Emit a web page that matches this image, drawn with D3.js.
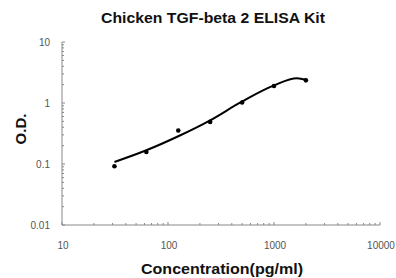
<!DOCTYPE html>
<html>
<head>
<meta charset="utf-8">
<script src="https://cdn.jsdelivr.net/npm/d3@7"></script>
<style>
body { margin: 0; background: #fff; }
text { font-family: Arial, "Liberation Sans", sans-serif; }
</style>
</head>
<body>
<svg width="396" height="278"></svg>
<script>
// standard points
const conc = [31.25, 62.5, 125, 250, 500, 1000, 2000];
const od = [0.092, 0.157, 0.355, 0.49, 1.02, 1.9, 2.35];

// fitted curve
const curveConc = [31.25, 62.5, 125, 250, 500, 1000, 1650, 2000];
const curveOd = [0.108, 0.168, 0.285, 0.52, 1.06, 1.95, 2.55, 2.4];

const xTicks = [10, 100, 1000, 10000];
const yTicks = [0.01, 0.1, 1, 10];

var svg = d3.select("svg");

var x = d3.scaleLog().domain([10, 10000]).range([62, 380]);
var y = d3.scaleLog().domain([0.01, 10]).range([225, 42]);

// minor ticks
var xMinor = [], yMinor = [];
for (let d = 10; d < 10000; d *= 10)
    for (let k = 2; k <= 9; k++) xMinor.push(d * k);
for (let d = 0.01; d < 9; d *= 10)
    for (let k = 2; k <= 9; k++) yMinor.push(d * k);

var axisColor = "#888";

var xAxis = svg.append("g").attr("transform", "translate(0,225)");
xAxis.append("line").attr("x1", 62).attr("x2", 380).attr("stroke", axisColor);
xAxis.selectAll(".mn").data(xMinor).enter().append("line")
    .attr("x1", d => x(d)).attr("x2", d => x(d))
    .attr("y1", 0).attr("y2", -2)
    .attr("stroke", axisColor);
xAxis.selectAll(".mj").data(xTicks).enter().append("line")
    .attr("x1", d => x(d)).attr("x2", d => x(d)).attr("y1", 0).attr("y2", -3)
    .attr("stroke", axisColor);
xAxis.selectAll("text").data(xTicks).enter().append("text")
    .attr("x", d => x(d) + 1).attr("y", 24)
    .attr("text-anchor", "middle")
    .attr("font-size", 10).attr("fill", "#555")
    .text(d => d);

var yAxis = svg.append("g").attr("transform", "translate(62,0)");
yAxis.append("line").attr("y1", 42).attr("y2", 225).attr("stroke", axisColor);
yAxis.selectAll(".mn").data(yMinor).enter().append("line")
    .attr("y1", d => y(d)).attr("y2", d => y(d)).attr("x1", 0).attr("x2", 2)
    .attr("stroke", axisColor);
yAxis.selectAll(".mj").data(yTicks).enter().append("line")
    .attr("y1", d => y(d)).attr("y2", d => y(d)).attr("x1", 0).attr("x2", 3)
    .attr("stroke", axisColor);
yAxis.selectAll("text").data(yTicks).enter().append("text")
    .attr("x", -12).attr("y", d => y(d))
    .attr("dy", "0.35em")
    .attr("text-anchor", "end")
    .attr("font-size", 10).attr("fill", "#555")
    .text(d => d);

// fitted curve
var line = d3.line()
    .x((d, i) => x(curveConc[i]))
    .y(d => y(d))
    .curve(d3.curveMonotoneX);

svg.append("path")
    .datum(curveOd)
    .attr("d", line)
    .attr("fill", "none")
    .attr("stroke", "#000")
    .attr("stroke-width", 2);

svg.selectAll(".pt").data(od).enter().append("circle")
    .attr("cx", (d, i) => x(conc[i]))
    .attr("cy", d => y(d))
    .attr("r", 2.3)
    .attr("fill", "#000");

svg.append("text")
    .attr("x", 213).attr("y", 22.5)
    .attr("text-anchor", "middle")
    .attr("font-size", 14.5).attr("font-weight", "bold")
    .attr("fill", "#111")
    .attr("textLength", 224).attr("lengthAdjust", "spacingAndGlyphs")
    .text("Chicken TGF-beta 2 ELISA Kit");

svg.append("text")
    .attr("x", 222).attr("y", 274)
    .attr("text-anchor", "middle")
    .attr("font-size", 15).attr("font-weight", "bold")
    .attr("fill", "#111")
    .attr("textLength", 162).attr("lengthAdjust", "spacingAndGlyphs")
    .text("Concentration(pg/ml)");

svg.append("text")
    .attr("transform", "translate(25.5,129) rotate(-90)")
    .attr("text-anchor", "middle")
    .attr("font-size", 15).attr("font-weight", "bold")
    .attr("fill", "#111")
    .text("O.D.");
</script>
</body>
</html>
